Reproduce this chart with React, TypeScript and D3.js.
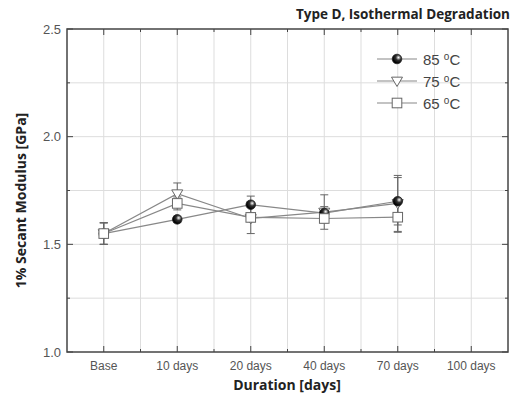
import React from "react";
import * as d3 from "d3";

const categories = ["Base", "10 days", "20 days", "40 days", "70 days", "100 days"];
const series85 = [1.55, 1.616, 1.684, 1.645, 1.70];
const err85 = [0.05, 0.015, 0.04, 0.03, 0.11];
const series75 = [1.55, 1.735, 1.62, 1.65, 1.69];
const err75 = [0.05, 0.05, 0.07, 0.08, 0.13];
const series65 = [1.55, 1.69, 1.625, 1.62, 1.626];
const err65 = [0.05, 0.03, 0.02, 0.02, 0.07];
const yTicks = [1.0, 1.5, 2.0, 2.5];
const yMinor = [1.25, 1.75, 2.25];
const legendLabels = ["85 °C", "75 °C", "65 °C"];

const W = 513, H = 403;
const left = 67, right = 508, top = 29, bottom = 352;

export default function App() {
  const x = d3.scalePoint<string>().domain(categories).range([left, right]).padding(0.5);
  const y = d3.scaleLinear().domain([1.0, 2.5]).range([bottom, top]);
  const step = x.step();
  const minorX = categories.slice(0, -1).map((c) => (x(c) as number) + step / 2);
  const line = d3.line<[number, number]>().x((d) => d[0]).y((d) => d[1]);
  const pts = (s: number[]) => s.map((v, i) => [x(categories[i]) as number, y(v)] as [number, number]);
  const font = "'Liberation Sans', Arial, sans-serif";
  const boldFont = "'Open Sans', sans-serif";
  const gray = "#888";
  const series = [
    { vals: series85, err: err85, type: "circle" },
    { vals: series75, err: err75, type: "tri" },
    { vals: series65, err: err65, type: "square" },
  ];
  const marker = (type: string, cx: number, cy: number, key: string) => {
    if (type === "circle")
      return <circle key={key} cx={cx} cy={cy} r={4.8} fill="url(#ball)" stroke="#222" strokeWidth={0.8} />;
    if (type === "tri") {
      const s = 5.5;
      return (
        <path key={key} d={`M${cx - s},${cy - s * 0.7}L${cx + s},${cy - s * 0.7}L${cx},${cy + s * 1.0}Z`}
          fill="#fff" stroke="#666" strokeWidth={1} />
      );
    }
    return <rect key={key} x={cx - 4.8} y={cy - 4.8} width={9.6} height={9.6} fill="#fff" stroke="#666" strokeWidth={1} />;
  };
  const legendY = [59, 81, 103];
  return (
    <svg width={W} height={H} style={{ position: "absolute", left: 0, top: 0, background: "#fff" }}>
      <defs>
        <radialGradient id="ball" cx="0.65" cy="0.35" r="0.6">
          <stop offset="0" stopColor="#fff" />
          <stop offset="0.45" stopColor="#333" />
          <stop offset="1" stopColor="#000" />
        </radialGradient>
      </defs>
      {/* grid */}
      {[...yTicks.slice(1, -1), ...yMinor].map((t) => (
        <line key={"gy" + t} x1={left} x2={right} y1={y(t)} y2={y(t)} stroke="#ddd" strokeWidth={1} />
      ))}
      {categories.map((c) => (
        <line key={"gx" + c} x1={x(c)} x2={x(c)} y1={top} y2={bottom} stroke="#ddd" strokeWidth={1} />
      ))}
      {minorX.map((m) => (
        <line key={"gm" + m} x1={m} x2={m} y1={top} y2={bottom} stroke="#ddd" strokeWidth={1} />
      ))}
      {/* frame */}
      <rect x={left} y={top} width={right - left} height={bottom - top} fill="none" stroke="#444" strokeWidth={1.5} />
      {/* ticks */}
      {categories.map((c) => (
        <g key={"tx" + c}>
          <line x1={x(c)} x2={x(c)} y1={bottom} y2={bottom - 6} stroke="#444" />
          <line x1={x(c)} x2={x(c)} y1={top} y2={top + 6} stroke="#444" />
        </g>
      ))}
      {minorX.map((m) => (
        <g key={"tm" + m}>
          <line x1={m} x2={m} y1={bottom} y2={bottom - 3} stroke="#444" />
          <line x1={m} x2={m} y1={top} y2={top + 3} stroke="#444" />
        </g>
      ))}
      {yTicks.map((t) => (
        <g key={"ty" + t}>
          <line x1={left} x2={left + 6} y1={y(t)} y2={y(t)} stroke="#444" />
          <line x1={right} x2={right - 6} y1={y(t)} y2={y(t)} stroke="#444" />
          <text x={left - 6} y={y(t) + 4.5} textAnchor="end" fontFamily={font} fontSize={13} fill="#555">
            {t.toFixed(1)}
          </text>
        </g>
      ))}
      {yMinor.map((t) => (
        <g key={"tym" + t}>
          <line x1={left} x2={left + 3} y1={y(t)} y2={y(t)} stroke="#444" />
          <line x1={right} x2={right - 3} y1={y(t)} y2={y(t)} stroke="#444" />
        </g>
      ))}
      {categories.map((c) => (
        <text key={"lx" + c} x={x(c)} y={370} textAnchor="middle" fontFamily={font} fontSize={12} fill="#555">
          {c}
        </text>
      ))}
      {/* series lines */}
      {series.map((s, i) => (
        <path key={"l" + i} d={line(pts(s.vals)) || ""} fill="none" stroke={gray} strokeWidth={1.2} />
      ))}
      {/* error bars */}
      {series.map((s, i) =>
        s.vals.map((v, j) => {
          const cx = x(categories[j]) as number;
          const y1 = y(v + s.err[j]);
          const y2 = y(v - s.err[j]);
          return (
            <g key={`e${i}-${j}`} stroke="#666" strokeWidth={1}>
              <line x1={cx} x2={cx} y1={y1} y2={y2} />
              <line x1={cx - 4} x2={cx + 4} y1={y1} y2={y1} />
              <line x1={cx - 4} x2={cx + 4} y1={y2} y2={y2} />
            </g>
          );
        })
      )}
      {/* markers */}
      {[1, 0, 2].map((i) => pts(series[i].vals).map((p, j) => marker(series[i].type, p[0], p[1], `m${i}-${j}`)))}
      {/* legend */}
      {series.map((s, i) => (
        <g key={"lg" + i}>
          <line x1={377} x2={417} y1={legendY[i]} y2={legendY[i]} stroke={gray} strokeWidth={1.2} />
          {marker(s.type, 397, legendY[i], "lm" + i)}
          <text x={423} y={legendY[i] + 5.5} fontFamily={font} fontSize={15} fill="#444">
            {legendLabels[i].split(" ")[0]}{" "}
            <tspan dy={-5} fontSize={10}>o</tspan>
            <tspan dy={5}>C</tspan>
          </text>
        </g>
      ))}
      {/* titles */}
      <text x={510} y={19} textAnchor="end" fontFamily={boldFont} fontWeight="bold" fontSize={13.5} fill="#222">
        Type D, Isothermal Degradation
      </text>
      <text x={287} y={390} textAnchor="middle" fontFamily={boldFont} fontWeight="bold" fontSize={14} fill="#222">
        Duration [days]
      </text>
      <text transform={`translate(26,${(top + bottom) / 2 + 10}) rotate(-90)`} textAnchor="middle" fontFamily={boldFont}
        fontWeight="bold" fontSize={14} fill="#222">
        1% Secant Modulus [GPa]
      </text>
    </svg>
  );
}
